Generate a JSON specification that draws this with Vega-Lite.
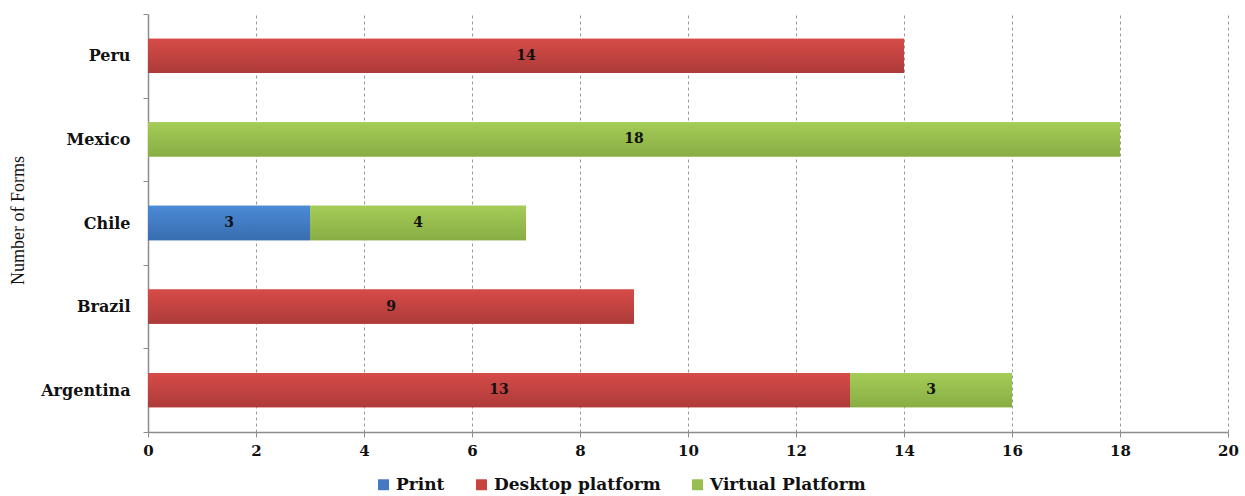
{
  "$schema": "https://vega.github.io/schema/vega-lite/v6.json",
  "autosize": {"type": "none"},
  "width": 1080,
  "height": 418,
  "padding": {"left": 148, "top": 14, "right": 17, "bottom": 64},
  "background": "#ffffff",
  "config": {
    "view": {"stroke": null},
    "font": "DejaVu Serif"
  },
  "data": {
    "values": [
      {"country": "Argentina", "series": "Desktop platform", "value": 13},
      {"country": "Argentina", "series": "Virtual Platform", "value": 3},
      {"country": "Brazil", "series": "Desktop platform", "value": 9},
      {"country": "Chile", "series": "Print", "value": 3},
      {"country": "Chile", "series": "Virtual Platform", "value": 4},
      {"country": "Mexico", "series": "Virtual Platform", "value": 18},
      {"country": "Peru", "series": "Desktop platform", "value": 14}
    ]
  },
  "transform": [
    {"stack": "value", "groupby": ["country"], "sort": [{"field": "series", "order": "ascending"}], "as": ["x0", "x1"]},
    {"calculate": "(datum.x0 + datum.x1) / 2", "as": "mid"}
  ],
  "encoding": {
    "y": {
      "field": "country",
      "type": "nominal",
      "sort": ["Peru", "Mexico", "Chile", "Brazil", "Argentina"],
      "scale": {"paddingInner": 0, "paddingOuter": 0},
      "axis": {
        "title": "Number of Forms",
        "titleFont": "Liberation Serif",
        "titleFontSize": 18,
        "titleFontWeight": "normal",
        "titleColor": "#111111",
        "titleX": -130,
        "titleY": 206,
        "titleAngle": -90,
        "titleBaseline": "middle",
        "labelFont": "DejaVu Serif",
        "labelFontSize": 16,
        "labelFontWeight": "bold",
        "labelColor": "#111111",
        "labelPadding": 13,
        "tickBand": "extent",
        "tickColor": "#8c8c8c",
        "tickSize": 5,
        "domainColor": "#8c8c8c",
        "domainWidth": 1.5,
        "grid": false
      }
    }
  },
  "layer": [
    {
      "mark": {"type": "bar", "height": {"band": 0.41}},
      "encoding": {
        "x": {
          "field": "x0",
          "type": "quantitative",
          "scale": {"domain": [0, 20], "nice": false},
          "axis": {
            "title": null,
            "values": [0, 2, 4, 6, 8, 10, 12, 14, 16, 18, 20],
            "labelFlush": false,
            "labelFont": "DejaVu Serif",
            "labelFontSize": 15,
            "labelFontWeight": "bold",
            "labelColor": "#111111",
            "labelPadding": 6,
            "tickColor": "#8c8c8c",
            "tickSize": 5,
            "domainColor": "#8c8c8c",
            "domainWidth": 1.5,
            "grid": true,
            "gridColor": "#9a9a9a",
            "gridDash": [3, 3],
            "gridWidth": 1
          }
        },
        "x2": {"field": "x1"},
        "color": {
          "field": "series",
          "type": "nominal",
          "scale": {
            "domain": ["Print", "Desktop platform", "Virtual Platform"],
            "range": ["#4579c2", "#c8443f", "#98be4f"]
          },
          "legend": {
            "title": null,
            "orient": "none",
            "legendX": 227,
            "legendY": 462,
            "direction": "horizontal",
            "symbolType": "square",
            "symbolSize": 120,
            "symbolStrokeWidth": 0,
            "labelFont": "DejaVu Serif",
            "labelFontSize": 17,
            "labelFontWeight": "bold",
            "labelColor": "#111111",
            "labelLimit": 400,
            "columnPadding": 28
          }
        }
      }
    },
    {
      "transform": [{"filter": "datum.series === 'Desktop platform'"}],
      "mark": {
        "type": "bar",
        "height": {"band": 0.41},
        "fill": {
          "gradient": "linear", "x1": 0, "y1": 0, "x2": 0, "y2": 1,
          "stops": [{"offset": 0, "color": "#d64b48"}, {"offset": 1, "color": "#ad3b39"}]
        }
      },
      "encoding": {"x": {"field": "x0", "type": "quantitative"}, "x2": {"field": "x1"}}
    },
    {
      "transform": [{"filter": "datum.series === 'Virtual Platform'"}],
      "mark": {
        "type": "bar",
        "height": {"band": 0.41},
        "fill": {
          "gradient": "linear", "x1": 0, "y1": 0, "x2": 0, "y2": 1,
          "stops": [{"offset": 0, "color": "#a5cc57"}, {"offset": 1, "color": "#88ad44"}]
        }
      },
      "encoding": {"x": {"field": "x0", "type": "quantitative"}, "x2": {"field": "x1"}}
    },
    {
      "transform": [{"filter": "datum.series === 'Print'"}],
      "mark": {
        "type": "bar",
        "height": {"band": 0.41},
        "fill": {
          "gradient": "linear", "x1": 0, "y1": 0, "x2": 0, "y2": 1,
          "stops": [{"offset": 0, "color": "#4b8ad6"}, {"offset": 1, "color": "#396db0"}]
        }
      },
      "encoding": {"x": {"field": "x0", "type": "quantitative"}, "x2": {"field": "x1"}}
    },
    {
      "mark": {"type": "text", "font": "DejaVu Serif", "fontSize": 14, "fontWeight": "bold", "color": "#111111"},
      "encoding": {
        "x": {"field": "mid", "type": "quantitative"},
        "text": {"field": "value", "type": "quantitative"}
      }
    }
  ]
}
